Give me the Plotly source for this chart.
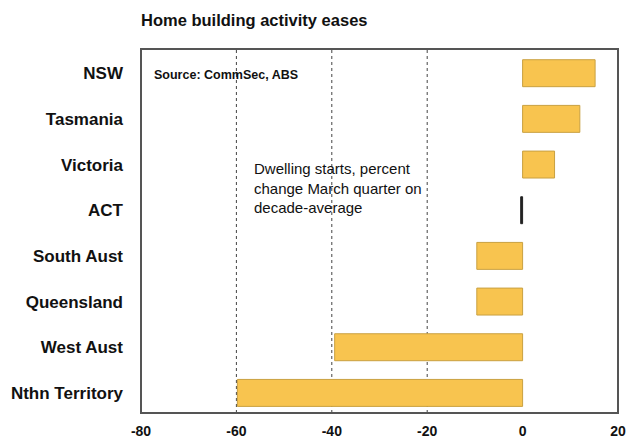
import plotly.graph_objects as go

categories = ["NSW", "Tasmania", "Victoria", "ACT", "South Aust", "Queensland", "West Aust", "Nthn Territory"]
values = [15.2, 12.0, 6.7, -0.4, -9.6, -9.6, -39.4, -59.8]
tick_vals = [-80, -60, -40, -20, 0, 20]
tick_text = ["-80", "-60", "-40", "-20", "0", "20"]

colors = ["#F8C44F" if c != "ACT" else "#222222" for c in categories]
line_colors = ["#C9A040" if c != "ACT" else "#222222" for c in categories]

fig = go.Figure()
fig.add_trace(go.Bar(
    y=categories, x=values, orientation="h",
    marker=dict(color=colors, line=dict(color=line_colors, width=1)),
    width=0.59,
))

for gx in [-60, -40, -20]:
    fig.add_shape(type="line", xref="x", yref="paper", x0=gx, x1=gx, y0=0, y1=1,
                  line=dict(color="#444444", width=1, dash="dot"), layer="below")

fig.add_shape(type="rect", xref="paper", yref="paper", x0=0, x1=1, y0=0, y1=1,
              line=dict(color="#555555", width=2), layer="above")

fig.update_layout(
    width=626, height=441,
    margin=dict(l=141, r=8, t=49, b=28),
    paper_bgcolor="white", plot_bgcolor="white",
    showlegend=False,
    title=dict(text="<b>Home building activity eases</b>", x=0.0, xref="paper", xanchor="left",
               y=0.955, yanchor="middle",
               font=dict(family="Liberation Sans, Arial", size=16.5, color="#111111")),
    font=dict(family="Liberation Sans, Arial", color="#111111"),
    xaxis=dict(range=[-80, 20], tickvals=tick_vals, ticktext=[f"<b>{t}</b>" for t in tick_text],
               showgrid=False, zeroline=False, showline=False, automargin=False,
               ticks="", tickfont=dict(size=14), ticklabelstandoff=8),
    yaxis=dict(categoryorder="array", categoryarray=categories[::-1],
               tickvals=categories, ticktext=[f"<b>{c}</b>" for c in categories],
               showgrid=False, zeroline=False, showline=False, automargin=False,
               ticks="", tickfont=dict(size=17), ticklabelstandoff=17,
               range=[-0.44, 7.53]),
)

fig.add_annotation(text="<b>Source: CommSec, ABS</b>", xref="paper", yref="paper",
                   x=0.023, y=0.928, xanchor="left", yanchor="middle", showarrow=False,
                   font=dict(size=12.5, color="#111111"))
fig.add_annotation(text="Dwelling starts, percent<br>change March quarter on<br>decade-average",
                   xref="x", yref="paper", x=-56.7, y=0.617, xanchor="left", yanchor="middle",
                   showarrow=False, align="left",
                   font=dict(size=15, color="#111111"))

fig.write_html("out.html", config={"displayModeBar": False},
               post_script="document.body.style.margin='0';document.body.style.overflow='hidden';")
